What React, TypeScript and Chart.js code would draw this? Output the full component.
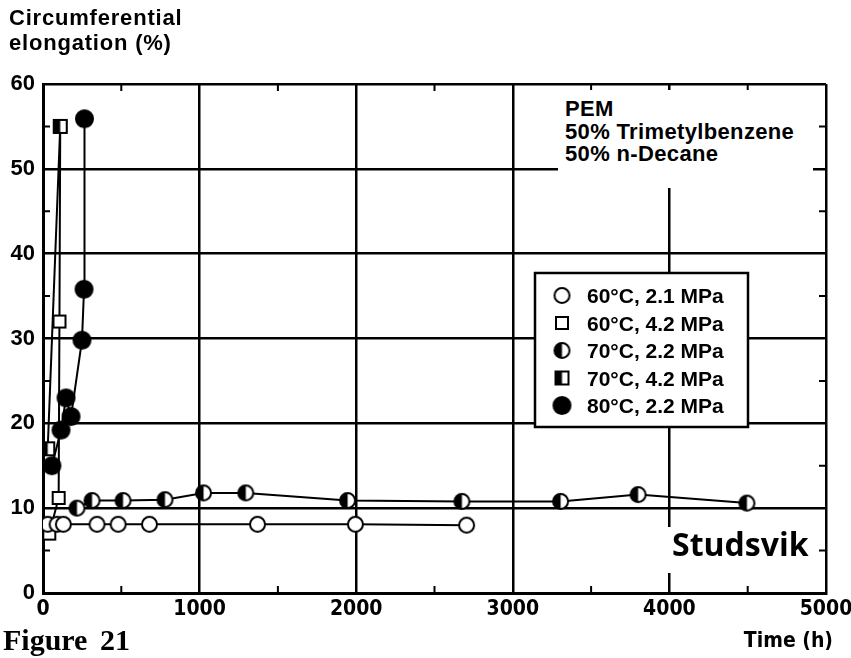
import React, { useEffect, useRef } from "react";
import { Chart, registerables } from "chart.js";
Chart.register(...registerables);

// ---- data ----
const seriesLabels = [
  "60°C, 2.1 MPa",
  "60°C, 4.2 MPa",
  "70°C, 2.2 MPa",
  "70°C, 4.2 MPa",
  "80°C, 2.2 MPa",
];

const time60_21 = [30, 90, 130, 345, 480, 680, 1370, 1995, 2705];
const elong60_21 = [8.1, 8.1, 8.1, 8.1, 8.1, 8.1, 8.1, 8.1, 8.0];

const time60_42 = [40, 100, 105, 110];
const elong60_42 = [7, 11.2, 32, 55];

const time70_22 = [217, 313, 511, 779, 1025, 1295, 1945, 2675, 3305, 3800, 4495];
const elong70_22 = [10, 10.9, 10.9, 11, 11.8, 11.8, 10.9, 10.8, 10.8, 11.6, 10.6];

const time70_42 = [30, 110];
const elong70_42 = [17, 55];

const time80_22 = [57, 115, 147, 179, 249, 262, 265];
const elong80_22 = [15, 19.2, 23, 20.8, 29.8, 35.8, 55.9];

const xTickValues = [0, 1000, 2000, 3000, 4000, 5000];
const xTickLabels = ["0", "1000", "2000", "3000", "4000", "5000"];
const yTickValues = [0, 10, 20, 30, 40, 50, 60];
const yTickLabels = ["0", "10", "20", "30", "40", "50", "60"];
const xMinorTicks = [500, 1500, 2500, 3500, 4500];
const yMinorTicks = [5, 15, 25, 35, 45, 55];

const annotationLines = ["PEM", "50% Trimetylbenzene", "50% n-Decane"];

type Kind = "openCircle" | "openSquare" | "halfCircle" | "halfSquare" | "filledCircle";

function makeMarker(kind: Kind): HTMLCanvasElement {
  const isCircle = kind.indexOf("Circle") >= 0;
  const size = kind === "filledCircle" ? 19 : isCircle ? 17 : kind === "halfSquare" ? 15 : 14;
  const c = document.createElement("canvas");
  const W = size + 4;
  c.width = W;
  c.height = W;
  const ctx = c.getContext("2d")!;
  const m = W / 2;
  const r = size / 2;
  ctx.lineWidth = 2;
  ctx.strokeStyle = "#000";
  if (isCircle) {
    ctx.beginPath();
    ctx.arc(m, m, r - 1, 0, Math.PI * 2);
    ctx.fillStyle = kind === "filledCircle" ? "#000" : "#fff";
    ctx.fill();
    if (kind === "halfCircle") {
      ctx.beginPath();
      ctx.moveTo(m, m - r + 1);
      ctx.arc(m, m, r - 1, -Math.PI / 2, Math.PI / 2, true);
      ctx.closePath();
      ctx.fillStyle = "#000";
      ctx.fill();
    }
    ctx.beginPath();
    ctx.arc(m, m, r - 1, 0, Math.PI * 2);
    ctx.stroke();
  } else {
    const x0 = m - r + 1;
    const s = size - 2;
    ctx.fillStyle = "#fff";
    ctx.fillRect(x0, x0, s, s);
    if (kind === "halfSquare") {
      ctx.fillStyle = "#000";
      ctx.fillRect(x0, x0, s / 2, s);
    }
    ctx.strokeRect(x0, x0, s, s);
  }
  return c;
}

export default function App() {
  const ref = useRef<HTMLCanvasElement | null>(null);

  useEffect(() => {
    document.body.style.margin = "0";
    const canvas = ref.current;
    if (!canvas) return;

    const markers = [
      makeMarker("openCircle"),
      makeMarker("openSquare"),
      makeMarker("halfCircle"),
      makeMarker("halfSquare"),
      makeMarker("filledCircle"),
    ];
    const times = [time60_21, time60_42, time70_22, time70_42, time80_22];
    const elongs = [elong60_21, elong60_42, elong70_22, elong70_42, elong80_22];
    const orders = [0, 1, 0, -1, 0];

    const datasets = seriesLabels.map((label, i) => ({
      label,
      data: times[i].map((t, j) => ({ x: t, y: elongs[i][j] })),
      borderColor: "#000",
      backgroundColor: "#000",
      borderWidth: 2,
      pointStyle: markers[i],
      pointRadius: 9,
      showLine: true,
      fill: false,
      tension: 0,
      order: orders[i],
    }));

    const minorTicks = {
      id: "minorTicks",
      afterDraw(chart: any) {
        const { ctx, chartArea } = chart;
        const xs = chart.scales.x;
        const ys = chart.scales.y;
        ctx.save();
        ctx.strokeStyle = "#000";
        ctx.lineWidth = 2;
        ctx.beginPath();
        xMinorTicks.forEach((v) => {
          const px = xs.getPixelForValue(v);
          ctx.moveTo(px, chartArea.bottom);
          ctx.lineTo(px, chartArea.bottom - 7);
          ctx.moveTo(px, chartArea.top);
          ctx.lineTo(px, chartArea.top + 7);
        });
        yMinorTicks.forEach((v) => {
          const py = ys.getPixelForValue(v);
          ctx.moveTo(chartArea.left, py);
          ctx.lineTo(chartArea.left + 7, py);
          ctx.moveTo(chartArea.right, py);
          ctx.lineTo(chartArea.right - 7, py);
        });
        ctx.stroke();
        ctx.restore();
      },
    };

    const boxLegend = {
      id: "boxLegend",
      afterDraw(chart: any) {
        const { ctx } = chart;
        const bx = 535, by = 273, bw = 213, bh = 154;
        ctx.save();
        ctx.fillStyle = "#fff";
        ctx.fillRect(bx, by, bw, bh);
        ctx.strokeStyle = "#000";
        ctx.lineWidth = 2.5;
        ctx.strokeRect(bx, by, bw, bh);
        ctx.font = 'bold 21px "Liberation Sans", Arial, sans-serif';
        ctx.fillStyle = "#000";
        ctx.textBaseline = "alphabetic";
        ctx.textAlign = "left";
        chart.data.datasets.forEach((ds: any, i: number) => {
          const base = 303 + i * 27.5;
          const cy = base - 7.5;
          const img = ds.pointStyle as HTMLCanvasElement;
          ctx.drawImage(img, 562 - img.width / 2, cy - img.height / 2);
          ctx.fillText(ds.label, 587, base);
        });
        ctx.restore();
      },
    };

    const chart = new Chart(canvas, {
      type: "line",
      data: { datasets: datasets as any },
      options: {
        animation: false,
        responsive: false,
        devicePixelRatio: 1,
        layout: { padding: { top: 84, right: 25, left: 0, bottom: 0 } },
        plugins: {
          legend: { display: false },
          tooltip: { enabled: false },
          title: { display: false },
        },
        scales: {
          x: {
            type: "linear",
            min: 0,
            max: 5000,
            afterFit: (s: any) => {
              s.height = 65;
              s.paddingLeft = 0;
              s.paddingRight = 0;
            },
            afterBuildTicks: (s: any) => {
              s.ticks = xTickValues.map((v) => ({ value: v }));
            },
            ticks: {
              autoSkip: false,
              maxRotation: 0,
              padding: 4,
              color: "#000",
              callback: (v: any) => xTickLabels[xTickValues.indexOf(Number(v))] ?? String(v),
              font: { family: '"Liberation Sans Narrow", "DejaVu Sans Condensed", sans-serif', size: 21, weight: "bold" },
            },
            grid: {
              color: "#000",
              lineWidth: 2.5,
              drawTicks: false,
            },
            border: { display: true, color: "#000", width: 3 },
          },
          y: {
            type: "linear",
            min: 0,
            max: 60,
            afterFit: (s: any) => {
              s.width = 43;
              s.paddingTop = 0;
              s.paddingBottom = 0;
            },
            afterBuildTicks: (s: any) => {
              s.ticks = yTickValues.map((v) => ({ value: v }));
            },
            ticks: {
              padding: 8,
              color: "#000",
              callback: (v: any) => yTickLabels[yTickValues.indexOf(Number(v))] ?? String(v),
              font: { family: '"Liberation Sans", Arial, sans-serif', size: 22, weight: "bold" },
            },
            grid: {
              color: "#000",
              lineWidth: 2.5,
              drawTicks: false,
            },
            border: { display: true, color: "#000", width: 3 },
          },
        },
      },
      plugins: [minorTicks, boxLegend],
    });

    return () => chart.destroy();
  }, []);

  const sans = '"Liberation Sans", Arial, sans-serif';

  return (
    <div style={{ position: "relative", width: 851, height: 658, background: "#fff", overflow: "hidden" }}>
      <canvas ref={ref} width={851} height={658} style={{ position: "absolute", left: 0, top: 0 }} />
      <div
        style={{
          position: "absolute",
          left: 9,
          top: 5,
          font: `bold 22px ${sans}`,
          lineHeight: "25px",
          letterSpacing: "0.8px",
          color: "#000",
          whiteSpace: "nowrap",
        }}
      >
        Circumferential
        <br />
        elongation (%)
      </div>
      <div
        style={{
          position: "absolute",
          left: 558,
          top: 90,
          width: 255,
          height: 98,
          boxSizing: "border-box",
          paddingLeft: 7,
          paddingTop: 8,
          background: "#fff",
          font: `bold 22px ${sans}`,
          lineHeight: "22.5px",
          letterSpacing: "0.35px",
          color: "#000",
          whiteSpace: "nowrap",
        }}
      >
        {annotationLines.map((l, i) => (
          <div key={i}>{l}</div>
        ))}
      </div>
      <div
        style={{
          position: "absolute",
          left: 560,
          top: 527,
          width: 255,
          height: 46,
          boxSizing: "border-box",
          paddingLeft: 112,
          paddingTop: 2,
          background: "#fff",
          font: `bold 32px "Open Sans", sans-serif`,
          lineHeight: "30px",
          letterSpacing: "0px",
          color: "#000",
          whiteSpace: "nowrap",
        }}
      >
        Studsvik
      </div>
      <div
        style={{
          position: "absolute",
          left: 3,
          top: 625,
          font: `bold 30px "Liberation Serif", "Times New Roman", serif`,
          lineHeight: "30px",
          wordSpacing: "5px",
          color: "#000",
          whiteSpace: "nowrap",
        }}
      >
        Figure 21
      </div>
      <div
        style={{
          position: "absolute",
          right: 18,
          top: 629,
          font: `bold 21px "Liberation Sans Narrow", "DejaVu Sans Condensed", sans-serif`,
          lineHeight: "22px",
          color: "#000",
          whiteSpace: "nowrap",
        }}
      >
        Time (h)
      </div>
    </div>
  );
}
